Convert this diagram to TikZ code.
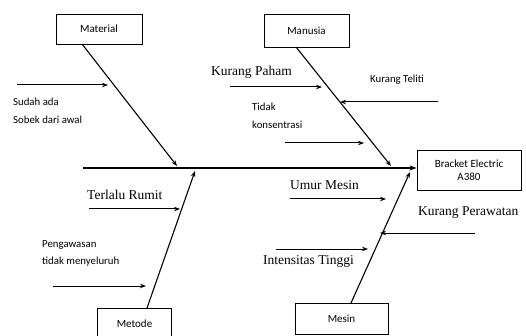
\documentclass[tikz,border=0pt]{standalone}
\usepackage{fontspec}
\setmainfont{Liberation Serif}
\newfontfamily\smallsans{Carlito}
\usetikzlibrary{arrows.meta}

\tikzset{
  catbox/.style={draw, line width=0.9pt, inner sep=0pt, font=\smallsans\fontsize{11}{12}\selectfont},
  bone/.style={line width=1.1pt, -{Stealth[length=6pt,width=4.5pt]}},
  twig/.style={line width=1pt, -{Stealth[length=6pt,width=4.5pt]}},
  bigtext/.style={anchor=west, inner sep=0pt, font=\fontsize{13.5}{15}\selectfont},
  smalltext/.style={anchor=west, inner sep=0pt, font=\smallsans\fontsize{10.8}{12}\selectfont}
}

\begin{document}
\begin{tikzpicture}[x=1pt,y=1pt,yscale=-1]
    \useasboundingbox (0,0) rectangle (526,336);

    % Category boxes
    \node [catbox, minimum width=86, minimum height=30] (material) at (99,29) {Material};
    \node [catbox, minimum width=85, minimum height=33] (manusia) at (306.5,30.5) {Manusia};
    \node [catbox, minimum width=74, minimum height=31] (metode) at (134.5,323.5) {Metode};
    \node [catbox, minimum width=93, minimum height=31] (mesin) at (341.5,318.5) {Mesin};
    % Effect box
    \node [catbox, minimum width=104, minimum height=40, align=center] (effect) at (469,170) {Bracket Electric\\[1pt]A380};

    % Spine
    \coordinate (spineL) at (83,168);
    \draw [line width=1.8pt, -{Stealth[length=7pt,width=5pt]}] (spineL) -- (effect.west |- spineL);

    % Main bones
    \coordinate (matTop) at (82,44);
    \coordinate (matEnd) at (177,166);
    \draw [bone] (matTop) -- (matEnd);
    \coordinate (manTop) at (296,47);
    \coordinate (manEnd) at (391,166);
    \draw [bone] (manTop) -- (manEnd);
    \coordinate (metBot) at (147,308);
    \coordinate (metEnd) at (195,171);
    \draw [bone] (metBot) -- (metEnd);
    \coordinate (mesBot) at (351,303);
    \coordinate (mesEnd) at (410,172);
    \draw [bone] (mesBot) -- (mesEnd);

    % Sub-cause arrows
    \coordinate (a1) at (17,85);   \coordinate (b1) at (108,85);
    \draw [twig] (a1) -- (b1);
    \coordinate (a2) at (230,87);  \coordinate (b2) at (322,87);
    \draw [twig] (a2) -- (b2);
    \coordinate (a3) at (438,102); \coordinate (b3) at (340,102);
    \draw [twig] (a3) -- (b3);
    \coordinate (a4) at (285,143); \coordinate (b4) at (364,143);
    \draw [twig] (a4) -- (b4);
    \coordinate (a5) at (89,209);  \coordinate (b5) at (180,209);
    \draw [twig] (a5) -- (b5);
    \coordinate (a6) at (53,286);  \coordinate (b6) at (146,286);
    \draw [twig] (a6) -- (b6);
    \coordinate (a7) at (290,199); \coordinate (b7) at (386,199);
    \draw [twig] (a7) -- (b7);
    \coordinate (a8) at (475,233); \coordinate (b8) at (380,233);
    \draw [twig] (a8) -- (b8);
    \coordinate (a9) at (276,249); \coordinate (b9) at (368,249);
    \draw [twig] (a9) -- (b9);

    % Text Node
    \node [smalltext] (t1) at (13,102) {Sudah ada};
    \node [smalltext] (t2) at (13,120) {Sobek dari awal};
    % Text Node
    \node [bigtext] (t3) at (211,72) {Kurang Paham};
    \node [smalltext] (t4) at (370,80) {Kurang Teliti};
    \node [smalltext] (t5) at (252,107) {Tidak};
    \node [smalltext] (t6) at (252,125) {konsentrasi};
    % Text Node
    \node [bigtext] (t7) at (87,195) {Terlalu Rumit};
    \node [smalltext] (t8) at (42,245) {Pengawasan};
    \node [smalltext] (t9) at (42,262) {tidak menyeluruh};
    % Text Node
    \node [bigtext] (t10) at (290,185) {Umur Mesin};
    \node [bigtext] (t11) at (418,213) {Kurang Perawatan};
    \node [bigtext] (t12) at (263,261) {Intensitas Tinggi};
\end{tikzpicture}
\end{document}
